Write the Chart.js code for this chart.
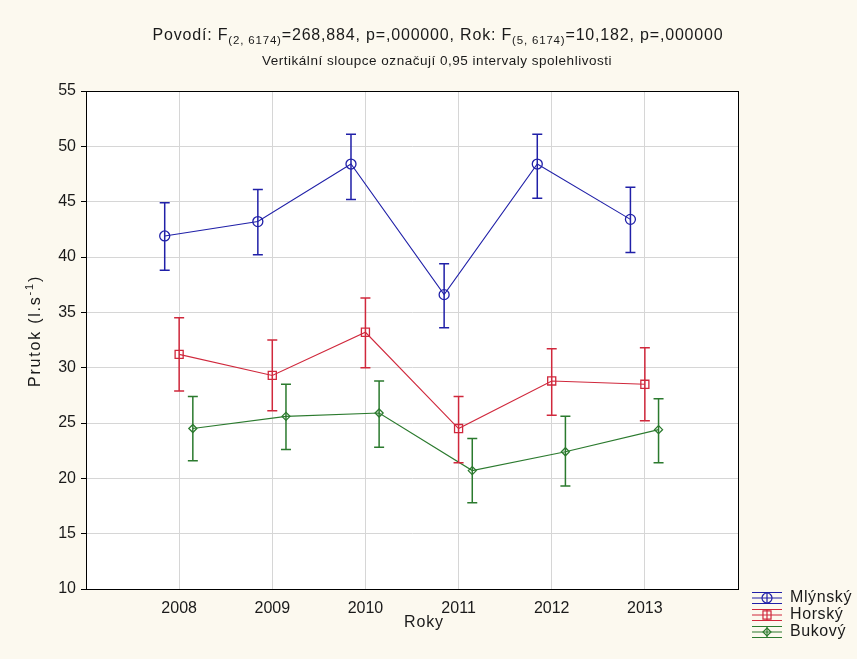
<!DOCTYPE html>
<html>
<head>
<meta charset="utf-8">
<script src="https://cdn.jsdelivr.net/npm/chart.js@4/dist/chart.umd.min.js"></script>
<style>
html,body{margin:0;padding:0;background:#fcf9ef;}
canvas{display:block;}
</style>
</head>
<body>
<canvas id="c" width="857" height="659"></canvas>
<script>
// ---- data ----
const years = [2008, 2009, 2010, 2011, 2012, 2013];
const seriesNames = ['Mlýnský', 'Horský', 'Bukový'];
const mlynsky     = [41.9, 43.2, 48.4, 36.6, 48.4, 43.4];
const mlynskyLow  = [38.8, 40.2, 45.2, 33.6, 45.3, 40.4];
const mlynskyHigh = [44.9, 46.1, 51.1, 39.4, 51.1, 46.3];
const horsky      = [31.2, 29.3, 33.2, 24.5, 28.8, 28.5];
const horskyLow   = [27.9, 26.1, 30.0, 21.4, 25.7, 25.2];
const horskyHigh  = [34.5, 32.5, 36.3, 27.4, 31.7, 31.8];
const bukovy      = [24.5, 25.6, 25.9, 20.7, 22.4, 24.4];
const bukovyLow   = [21.6, 22.6, 22.8, 17.8, 19.3, 21.4];
const bukovyHigh  = [27.4, 28.5, 28.8, 23.6, 25.6, 27.2];
const yTicks = [10, 15, 20, 25, 30, 35, 40, 45, 50, 55];

const titleParts = [
  ['Povodí: F', false], ['(2, 6174)', true], ['=268,884, p=,000000, Rok: F', false],
  ['(5, 6174)', true], ['=10,182, p=,000000', false]
];
const subtitle = 'Vertikální sloupce označují 0,95 intervaly spolehlivosti';
const yTitle = ['Prutok (l.s', '-1', ')'];
const xTitle = 'Roky';

// ---- styles ----
const colors = ['#2020a8', '#d0283c', '#2b7a2e'];
const shift = [-0.155, 0, 0.147];
const styles = ['circle', 'rect', 'rectRot'];
const radii = [5, 5.7, 4];
const lows = [mlynskyLow, horskyLow, bukovyLow];
const highs = [mlynskyHigh, horskyHigh, bukovyHigh];
const vals = [mlynsky, horsky, bukovy];
const FONT = '"Liberation Sans", Arial, sans-serif';
const TXT = '#1a1a1a';

const datasets = vals.map((v, i) => ({
  label: seriesNames[i],
  data: v.map((y, j) => ({x: years[j] + shift[i], y: y})),
  borderColor: colors[i],
  backgroundColor: 'rgba(0,0,0,0)',
  borderWidth: 1.1,
  pointStyle: styles[i],
  pointRadius: radii[i],
  pointBorderWidth: 1.3,
  pointBorderColor: colors[i],
  pointBackgroundColor: 'rgba(0,0,0,0)',
  tension: 0
}));

function drawMarker(ctx, style, x, y, r) {
  ctx.beginPath();
  if (style === 'circle') { ctx.arc(x, y, r, 0, Math.PI * 2); }
  else if (style === 'rect') { const s = Math.SQRT1_2 * r; ctx.rect(x - s, y - s, 2 * s, 2 * s); }
  else { ctx.moveTo(x, y - r); ctx.lineTo(x + r, y); ctx.lineTo(x, y + r); ctx.lineTo(x - r, y); ctx.closePath(); }
  ctx.stroke();
}

// draw a run of [text, font, dy] parts, spaced out to a target width, starting at x
function spacedRun(ctx, parts, x, y, target) {
  let w = 0, n = 0;
  parts.forEach(p => { ctx.font = p[1]; w += ctx.measureText(p[0]).width; n += p[0].length; });
  const hasLS = ('letterSpacing' in ctx);
  const ls = Math.max(0, (target - w) / n);
  const sx = hasLS ? 1 : target / w;
  ctx.textAlign = 'left';
  let cx = x;
  parts.forEach(p => {
    ctx.save();
    ctx.font = p[1];
    if (hasLS) ctx.letterSpacing = ls + 'px';
    const pw = ctx.measureText(p[0]).width;
    ctx.translate(cx, y + p[2]);
    ctx.scale(sx, 1);
    ctx.fillText(p[0], 0, 0);
    ctx.restore();
    cx += hasLS ? pw : pw * sx;
  });
}

const decor = {
  id: 'decor',
  beforeDraw(chart) {
    const ctx = chart.ctx, a = chart.chartArea;
    ctx.save();
    ctx.fillStyle = '#fcf9ef';
    ctx.fillRect(0, 0, chart.width, chart.height);
    ctx.fillStyle = '#ffffff';
    ctx.fillRect(a.left, a.top, a.right - a.left, a.bottom - a.top);
    ctx.restore();
  },
  afterDatasetsDraw(chart) {
    const ctx = chart.ctx, ys = chart.scales.y;
    ctx.save();
    vals.forEach((v, i) => {
      const meta = chart.getDatasetMeta(i);
      ctx.strokeStyle = colors[i];
      ctx.lineWidth = 1.5;
      meta.data.forEach((pt, j) => {
        const x = pt.x;
        const y1 = ys.getPixelForValue(lows[i][j]);
        const y2 = ys.getPixelForValue(highs[i][j]);
        ctx.beginPath();
        ctx.moveTo(x, y1); ctx.lineTo(x, y2);
        ctx.moveTo(x - 5, y1); ctx.lineTo(x + 5, y1);
        ctx.moveTo(x - 5, y2); ctx.lineTo(x + 5, y2);
        ctx.stroke();
      });
    });
    ctx.restore();
  },
  afterDraw(chart) {
    const ctx = chart.ctx, a = chart.chartArea;
    ctx.save();
    // frame
    ctx.strokeStyle = '#000';
    ctx.lineWidth = 1;
    ctx.strokeRect(Math.round(a.left) + 0.5, Math.round(a.top) + 0.5, Math.round(a.right - a.left), Math.round(a.bottom - a.top));
    ctx.fillStyle = TXT;
    ctx.textBaseline = 'middle';
    // title with subscripts
    const mainF = '16px ' + FONT, subF = '11.5px ' + FONT;
    spacedRun(ctx, titleParts.map(p => [p[0], p[1] ? subF : mainF, p[1] ? 5 : 0]), 438 - 571 / 2, 36, 571);
    // subtitle
    spacedRun(ctx, [[subtitle, '13.5px ' + FONT, 0]], 437 - 175, 61, 350);
    // x title
    spacedRun(ctx, [[xTitle, '16px ' + FONT, 0]], 424 - 20, 623, 40);
    // y title with superscript
    ctx.translate(36, 331);
    ctx.rotate(-Math.PI / 2);
    spacedRun(ctx, [[yTitle[0], '16px ' + FONT, 0], [yTitle[1], '11px ' + FONT, -6], [yTitle[2], '16px ' + FONT, 0]], -56, 0, 112);
    ctx.setTransform(1, 0, 0, 1, 0, 0);
    // legend
    seriesNames.forEach((n, i) => {
      const ly = 598 + i * 17;
      ctx.strokeStyle = colors[i];
      ctx.lineWidth = 1.2;
      ctx.beginPath();
      ctx.moveTo(752, ly - 5.5); ctx.lineTo(782, ly - 5.5);
      ctx.moveTo(752, ly); ctx.lineTo(782, ly);
      ctx.moveTo(752, ly + 5.5); ctx.lineTo(782, ly + 5.5);
      ctx.moveTo(767, ly - 5.5); ctx.lineTo(767, ly + 5.5);
      ctx.stroke();
      drawMarker(ctx, styles[i], 767, ly, radii[i]);
      ctx.fillStyle = TXT;
      ctx.textBaseline = 'middle';
      ctx.font = '16px ' + FONT;
      const w = ctx.measureText(n).width;
      spacedRun(ctx, [[n, '16px ' + FONT, 0]], 790, ly, w + n.length * 0.6);
    });
    ctx.restore();
  }
};

new Chart(document.getElementById('c'), {
  type: 'line',
  data: { datasets: datasets },
  plugins: [decor],
  options: {
    responsive: false,
    animation: false,
    layout: { padding: { top: 91, right: 119, bottom: 0, left: 0 } },
    plugins: { legend: { display: false }, title: { display: false }, tooltip: { enabled: false } },
    scales: {
      x: {
        type: 'linear', min: 2007, max: 2014,
        afterBuildTicks: s => { s.ticks = years.map(v => ({ value: v })); },
        afterFit: s => { s.height = 70; },
        ticks: { callback: v => String(v), color: TXT, font: { family: FONT, size: 16 }, padding: 10, maxRotation: 0, autoSkip: false },
        grid: { color: '#d6d6d6', drawTicks: false },
        border: { color: '#000' }
      },
      y: {
        type: 'linear', min: 10, max: 55,
        afterBuildTicks: s => { s.ticks = yTicks.map(v => ({ value: v })); },
        afterFit: s => { s.width = 86; },
        ticks: { color: TXT, font: { family: FONT, size: 16 }, padding: 5 },
        grid: { color: '#d6d6d6', tickColor: '#000', tickLength: 5 },
        border: { color: '#000' }
      }
    }
  }
});
</script>
</body>
</html>
